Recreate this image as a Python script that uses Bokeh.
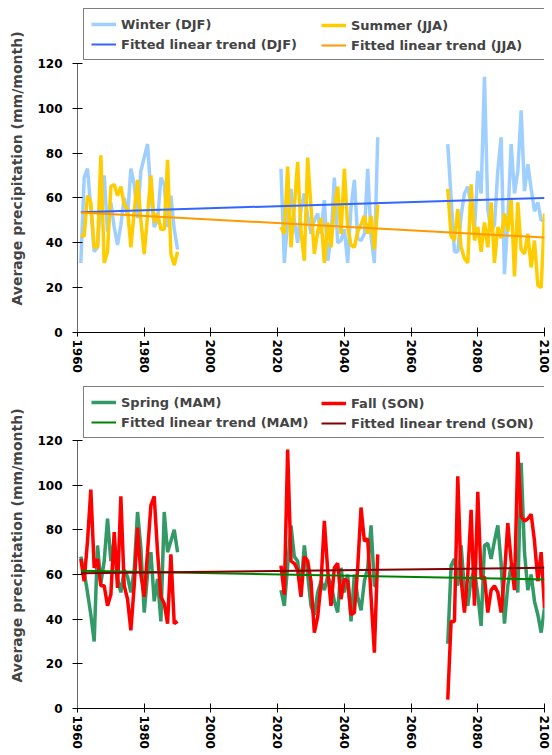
from bokeh.plotting import figure
from bokeh.models import FixedTicker, Legend, LegendItem, Range1d
from bokeh.layouts import column
from bokeh.embed import file_html
from bokeh.resources import INLINE

# ---------------- data ----------------
years_a = list(range(1961, 1991))
years_b = list(range(2021, 2051))
years_c = list(range(2071, 2101))

winter_a = [31, 69, 73, 55, 36, 38, 60, 70, 45, 58, 47, 39, 48, 60, 52,
            73, 66, 51, 72, 78, 84, 62, 47, 50, 69, 66, 47, 61, 46, 37]
winter_b = [73, 31, 50, 64, 50, 40, 55, 62, 52, 44, 50, 53, 44, 59, 32,
            42, 69, 40, 41, 46, 31, 56, 68, 42, 41, 44, 73, 43, 31, 87]
winter_c = [84, 60, 36, 36, 52, 62, 65, 57, 46, 72, 62, 114, 55, 45, 48,
            72, 87, 26, 50, 84, 62, 72, 99, 63, 75, 64, 54, 58, 50, 50]

summer_a = [43, 43, 61, 58, 38, 38, 79, 31, 36, 65, 66, 61, 65, 57, 55,
            38, 54, 68, 50, 35, 52, 70, 49, 53, 46, 46, 77, 35, 30, 36]
summer_b = [47, 44, 74, 38, 56, 76, 45, 32, 78, 56, 35, 45, 51, 31, 49,
            38, 56, 65, 44, 73, 47, 39, 38, 45, 48, 52, 44, 52, 37, 57]
summer_c = [64, 43, 41, 55, 38, 33, 31, 66, 41, 47, 36, 49, 38, 58, 31,
            47, 42, 53, 45, 60, 25, 58, 37, 35, 44, 29, 41, 21, 20, 53]

spring_a = [68, 61, 52, 42, 30, 73, 56, 66, 85, 66, 75, 58, 52, 62, 59,
            52, 62, 88, 72, 43, 60, 70, 48, 58, 39, 88, 70, 75, 80, 70]
spring_b = [53, 46, 64, 82, 68, 66, 54, 73, 60, 46, 42, 52, 57, 53, 59,
            56, 48, 43, 63, 52, 60, 39, 60, 50, 44, 57, 63, 82, 55, 55]
spring_c = [29, 64, 67, 55, 73, 53, 46, 58, 62, 51, 37, 73, 74, 67, 75,
            82, 65, 38, 55, 64, 62, 52, 110, 70, 53, 60, 48, 42, 34, 45]

fall_a = [67, 57, 75, 98, 63, 67, 55, 55, 46, 51, 79, 54, 95, 55, 49,
          35, 55, 81, 60, 50, 70, 91, 95, 70, 50, 47, 38, 69, 38, 39]
fall_b = [64, 51, 116, 66, 65, 62, 50, 68, 66, 57, 34, 41, 56, 84, 62,
          46, 63, 65, 49, 58, 57, 42, 43, 63, 90, 75, 76, 50, 25, 69]
fall_c = [4, 39, 39, 104, 58, 43, 60, 89, 46, 97, 58, 59, 43, 53, 55,
          52, 43, 60, 83, 66, 53, 115, 86, 84, 85, 87, 75, 57, 70, 45]

trend_years = [1961, 2100]
djf_trend = [53.6, 60.0]
jja_trend = [53.5, 42.3]
mam_trend = [61.7, 57.8]
son_trend = [60.6, 63.0]

x_ticks = [1960, 1980, 2000, 2020, 2040, 2060, 2080, 2100]
y_ticks = [0, 20, 40, 60, 80, 100, 120]

FONT = "DejaVu Sans"
FS = "12px"
LFS = "13px"
NAN = float("nan")


def joined(a, b, c):
    return list(a) + [NAN] + list(b) + [NAN] + list(c)


xs_all = joined(years_a, years_b, years_c)

LEG_PAD = 7
LEG_ROW = 16
LEG_SP = 4
LEG_TOP = 6      # gap between the frame top and the legend box top


def legend_box(items, location, label_width, boxed):
    return Legend(items=items, location=location,
                  label_text_font=FONT, label_text_font_style="bold",
                  label_text_font_size=LFS, glyph_width=25, glyph_height=LEG_ROW,
                  label_height=LEG_ROW, label_width=label_width, label_standoff=5,
                  spacing=LEG_SP, padding=LEG_PAD, margin=0,
                  border_line_color="black" if boxed else None, border_line_width=1,
                  background_fill_color="white",
                  background_fill_alpha=1 if boxed else 0)


def make_panel(series, trends, height, border_top, border_bottom, y_top):
    # the frame extends above 120 to leave room for the legend box;
    # the y axis itself is bounded to 0..120
    p = figure(width=552, height=height, output_backend="svg", toolbar_location=None,
               title=None,
               x_range=Range1d(1960, 2100), y_range=Range1d(0, y_top),
               min_border_left=77, min_border_right=8,
               min_border_top=border_top, min_border_bottom=border_bottom)
    p.outline_line_color = None
    p.xgrid.visible = False
    p.ygrid.visible = False
    p.background_fill_color = "white"

    rends = []
    for label, ys, color, lw in series:
        r = p.line(xs_all, ys, line_color=color, line_width=lw)
        rends.append((label, r))
    for label, ys, color, lw in trends:
        r = p.line(trend_years, ys, line_color=color, line_width=lw)
        rends.append((label, r))

    for ax in (p.xaxis[0], p.yaxis[0]):
        ax.major_label_text_font = FONT
        ax.major_label_text_font_style = "bold"
        ax.major_label_text_font_size = FS
        ax.major_label_text_color = "black"
        ax.minor_tick_line_color = None
        ax.major_tick_line_color = "black"
    p.xaxis.ticker = FixedTicker(ticks=x_ticks)
    p.yaxis.ticker = FixedTicker(ticks=y_ticks)
    p.yaxis.bounds = (0, 120)
    p.xaxis.major_label_orientation = "vertical"
    p.xaxis.major_tick_in = 5
    p.xaxis.major_tick_out = 4
    p.xaxis.major_label_standoff = 3
    p.xaxis.axis_line_color = "black"
    p.yaxis.major_tick_in = 5
    p.yaxis.major_tick_out = 5
    p.yaxis.major_label_standoff = 10
    p.yaxis.axis_line_color = "#666666"
    p.yaxis.axis_label = "Average precipitation (mm/month)"
    p.yaxis.axis_label_text_font = FONT
    p.yaxis.axis_label_text_font_style = "bold"
    p.yaxis.axis_label_text_font_size = "14px"
    p.yaxis.axis_label_standoff = 9

    frame_h = height - border_top - border_bottom
    left_items = [LegendItem(label=rends[0][0], renderers=[rends[0][1]]),
                  LegendItem(label=rends[2][0], renderers=[rends[2][1]])]
    right_items = [LegendItem(label=rends[1][0], renderers=[rends[1][1]]),
                   LegendItem(label=rends[3][0], renderers=[rends[3][1]])]
    box_w = 463
    p.add_layout(legend_box(left_items, (6, frame_h - LEG_TOP - 50),
                            box_w - 2 * LEG_PAD - 30, True))
    p.add_layout(legend_box(right_items, (244, frame_h - LEG_TOP - 43), 20, False))
    return p


p1 = make_panel(
    [("Winter (DJF)", joined(winter_a, winter_b, winter_c), "#9FCFFF", 3.5),
     ("Summer (JJA)", joined(summer_a, summer_b, summer_c), "#FFCC00", 3.5)],
    [("Fitted linear trend (DJF)", djf_trend, "#3366FF", 2),
     ("Fitted linear trend (JJA)", jja_trend, "#FF9900", 2)],
    height=378, border_top=4, border_bottom=46, y_top=146.2)

p2 = make_panel(
    [("Spring (MAM)", joined(spring_a, spring_b, spring_c), "#339966", 3.5),
     ("Fall (SON)", joined(fall_a, fall_b, fall_c), "#FF0000", 3.5)],
    [("Fitted linear trend (MAM)", mam_trend, "#008000", 2),
     ("Fitted linear trend (SON)", son_trend, "#800000", 2)],
    height=374, border_top=4, border_bottom=44, y_top=146.0)

layout = column(p1, p2, spacing=0)
open("out.html", "w").write(file_html(layout, INLINE))
